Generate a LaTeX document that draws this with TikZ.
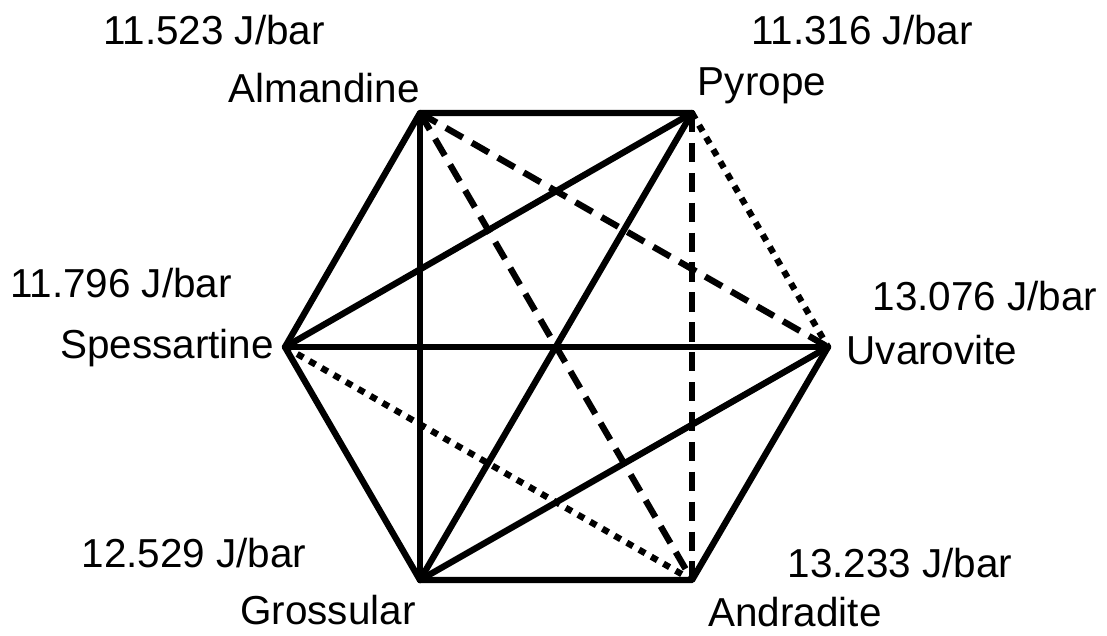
\documentclass[tikz,border=0pt]{standalone}
\usepackage{fontspec}
\setmainfont{Liberation Sans}
\usetikzlibrary{positioning,calc}
\tikzset{
  solidedge/.style={line width=1.8pt,draw=black,line cap=round,line join=round},
  dashedge/.style={line width=1.8pt,draw=black,dash pattern=on 5.5pt off 3pt},
  dotedge/.style={line width=1.8pt,draw=black,dash pattern=on 2pt off 2pt},
  lbl/.style={inner sep=0pt,font=\fontsize{11.5}{13}\selectfont},
}

\begin{document}
\begin{tikzpicture}[x=0.01cm,y=-0.01cm]
  \path[use as bounding box] (0,0) rectangle (1107,635);
  % vertices of the hexagon
  \coordinate (alm) at (420,113);
  \coordinate (pyr) at (692,113);
  \coordinate (uva) at (828,347);
  \coordinate (and) at (692,580);
  \coordinate (gro) at (420,580);
  \coordinate (spe) at (285,347);
  % names and values
  \node[lbl] (almname) at (324,88) {Almandine};
  \node[lbl] (almval) at (214,30) {11.523 J/bar};
  \node[lbl] (pyrname) at (762,86) {Pyrope};
  \node[lbl] (pyrval) at (862,30) {11.316 J/bar};
  \node[lbl] (spename) at (167,348) {Spessartine};
  \node[lbl] (speval) at (121,283) {11.796 J/bar};
  \node[lbl] (uvaname) at (932,350) {Uvarovite};
  \node[lbl] (uvaval) at (985,296) {13.076 J/bar};
  \node[lbl] (groname) at (328,610) {Grossular};
  \node[lbl] (groval) at (194,553) {12.529 J/bar};
  \node[lbl] (andname) at (795,612) {Andradite};
  \node[lbl] (andval) at (900,563) {13.233 J/bar};
  % edges
  \draw[dashedge] (alm)--(uva); \draw[dashedge] (alm)--(and); \draw[dashedge] (pyr)--(and);
  \draw[dotedge] (pyr)--(uva); \draw[dotedge] (spe)--(and);
  \draw[solidedge] (uva)--(and)--(gro)--(spe)--(alm)--(pyr);
  \draw[solidedge] (alm)--(gro); \draw[solidedge] (pyr)--(spe); \draw[solidedge] (pyr)--(gro);
  \draw[solidedge] (spe)--(uva); \draw[solidedge] (gro)--(uva);
\end{tikzpicture}
\end{document}
